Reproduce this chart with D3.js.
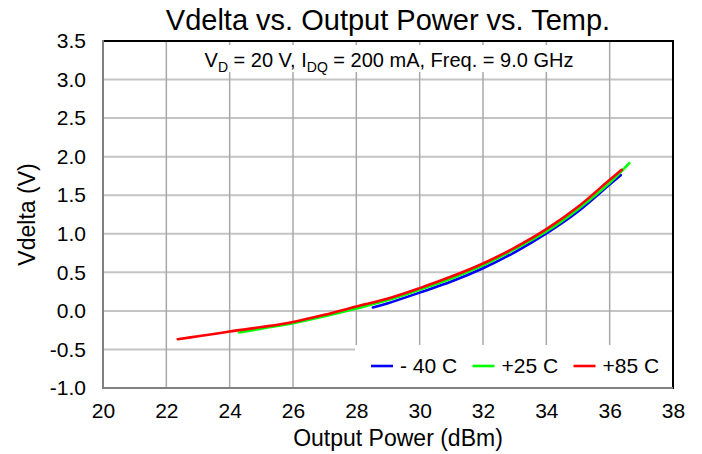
<!DOCTYPE html>
<html>
<head>
<meta charset="utf-8">
<script src="https://cdn.jsdelivr.net/npm/d3@7"></script>
<style>
  html, body { margin: 0; padding: 0; background: #fff; }
  svg { display: block; font-family: "Liberation Sans", Arial, sans-serif; }
</style>
</head>
<body>
<svg id="chart" width="702" height="454"></svg>
<script>
// Output power (dBm) and Vdelta (V) per temperature
const pout40 = [28.52, 29, 30, 31, 32, 33, 34, 35, 36, 36.35];
const vdelta40 = [0.045, 0.10, 0.237, 0.38, 0.553, 0.76, 1.005, 1.29, 1.64, 1.76];

const pout25 = [24.3, 25, 26, 27, 28, 29, 30, 31, 32, 33, 34, 35, 36, 36.62];
const vdelta25 = [-0.281, -0.23, -0.16, -0.07, 0.03, 0.14, 0.275, 0.42, 0.59, 0.80, 1.03, 1.32, 1.66, 1.916];

const pout85 = [22.36, 23, 24, 25, 26, 27, 28, 29, 30, 31, 32, 33, 34, 35, 36, 36.38];
const vdelta85 = [-0.367, -0.33, -0.268, -0.21, -0.143, -0.05, 0.056, 0.16, 0.295, 0.445, 0.615, 0.82, 1.06, 1.35, 1.70, 1.83];

const seriesNames = ["- 40 C", "+25 C", "+85 C"];
const seriesColors = ["#0000ff", "#00ff00", "#ff0000"];

const xTicks = [20, 22, 24, 26, 28, 30, 32, 34, 36, 38];
const yTicks = [-1.0, -0.5, 0.0, 0.5, 1.0, 1.5, 2.0, 2.5, 3.0, 3.5];

const svg = d3.select("#chart");
const pLeft = 103, pRight = 673, pTop = 41, pBottom = 388;

const x = d3.scaleLinear().domain([20, 38]).range([pLeft, pRight]);
const y = d3.scaleLinear().domain([-1, 3.5]).range([pBottom, pTop]);

// Grid
const grid = svg.append("g");
grid.selectAll("line.hg")
  .data(yTicks.filter(v => v > -1 && v < 3.5))
  .join("line")
  .attr("x1", pLeft).attr("x2", pRight)
  .attr("y1", d => y(d)).attr("y2", d => y(d))
  .attr("stroke", "#c4c4c4").attr("stroke-width", 2);
grid.selectAll("line.vg")
  .data(xTicks.filter(v => v > 20 && v < 38))
  .join("line")
  .attr("x1", d => x(d)).attr("x2", d => x(d))
  .attr("y1", pTop).attr("y2", pBottom)
  .attr("stroke", "#a8a8a8").attr("stroke-width", 1.5);

// Condition note with its white backing
svg.append("rect")
  .attr("x", 196).attr("y", 45).attr("width", 386).attr("height", 27)
  .attr("fill", "#fff");
const note = svg.append("text")
  .attr("x", 389).attr("y", 66.5)
  .attr("text-anchor", "middle")
  .attr("font-size", 20).attr("fill", "#000");
note.append("tspan").text("V");
note.append("tspan").attr("font-size", 14).attr("dy", 5).text("D");
note.append("tspan").attr("dy", -5).text(" = 20 V, I");
note.append("tspan").attr("font-size", 14).attr("dy", 5).text("DQ");
note.append("tspan").attr("dy", -5).text(" = 200 mA, Freq. = 9.0 GHz");

// Curves
const line = d3.line()
  .x(d => x(d[0])).y(d => y(d[1]))
  .curve(d3.curveCatmullRom.alpha(0.5));
const series = [
  d3.zip(pout40, vdelta40),
  d3.zip(pout25, vdelta25),
  d3.zip(pout85, vdelta85)
];
svg.append("g").selectAll("path")
  .data(series)
  .join("path")
  .attr("d", line)
  .attr("fill", "none")
  .attr("stroke", (d, i) => seriesColors[i])
  .attr("stroke-width", 2.6)
  .attr("stroke-linecap", "round");

// Legend
svg.append("rect")
  .attr("x", 355).attr("y", 345).attr("width", pRight - 355).attr("height", pBottom - 345)
  .attr("fill", "#fff");
const legX = [371, 472.5, 573.5];
const leg = svg.append("g").selectAll("g")
  .data(seriesNames)
  .join("g")
  .attr("transform", (d, i) => `translate(${legX[i]},366)`);
leg.append("line")
  .attr("x1", 0).attr("x2", 22)
  .attr("stroke", (d, i) => seriesColors[i])
  .attr("stroke-width", 2.6);
leg.append("text")
  .attr("x", 29).attr("y", 7)
  .attr("font-size", 21)
  .text(d => d);

// Frame
svg.append("line").attr("x1", pLeft).attr("x2", pRight).attr("y1", pTop).attr("y2", pTop)
  .attr("stroke", "#000").attr("stroke-width", 2);
svg.append("line").attr("x1", pRight).attr("x2", pRight).attr("y1", pTop - 1).attr("y2", pBottom + 1)
  .attr("stroke", "#000").attr("stroke-width", 2);
svg.append("line").attr("x1", pLeft).attr("x2", pLeft).attr("y1", pTop - 1).attr("y2", pBottom + 1)
  .attr("stroke", "#808080").attr("stroke-width", 2);
svg.append("line").attr("x1", pLeft).attr("x2", pRight).attr("y1", pBottom).attr("y2", pBottom)
  .attr("stroke", "#808080").attr("stroke-width", 2);

// Axes
const fmt = d => d.toFixed(1);
const yAxis = svg.append("g")
  .attr("transform", `translate(${pLeft},0)`)
  .call(d3.axisLeft(y).tickValues(yTicks).tickFormat(fmt).tickSize(0).tickPadding(17));
const xAxis = svg.append("g")
  .attr("transform", `translate(0,${pBottom})`)
  .call(d3.axisBottom(x).tickValues(xTicks).tickFormat(d3.format("d")).tickSize(0).tickPadding(15));
[yAxis, xAxis].forEach(a => {
  a.select(".domain").remove();
  a.selectAll("text")
    .attr("font-size", 21)
    .attr("font-family", "Liberation Sans, Arial, sans-serif")
    .attr("fill", "#000");
});

// Titles
svg.append("text")
  .attr("x", 388).attr("y", 30)
  .attr("text-anchor", "middle")
  .attr("font-size", 29)
  .text("Vdelta vs. Output Power vs. Temp.");
svg.append("text")
  .attr("x", 398).attr("y", 446)
  .attr("text-anchor", "middle")
  .attr("font-size", 23)
  .text("Output Power (dBm)");
svg.append("text")
  .attr("transform", `translate(35,${(pTop + pBottom) / 2}) rotate(-90)`)
  .attr("text-anchor", "middle")
  .attr("font-size", 23)
  .text("Vdelta (V)");
</script>
</body>
</html>
